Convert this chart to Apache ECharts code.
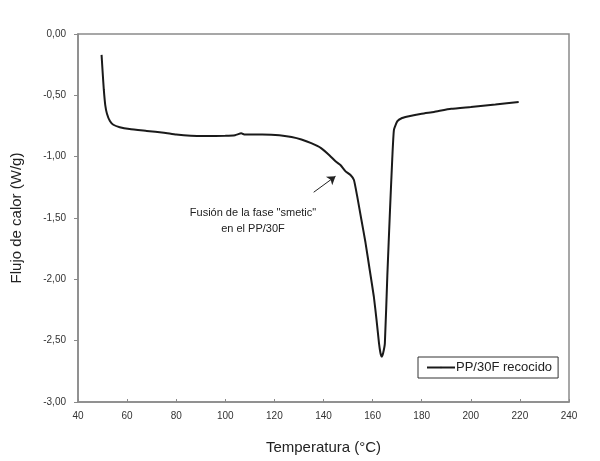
<!DOCTYPE html>
<html>
<head>
<meta charset="utf-8">
<script src="https://cdn.jsdelivr.net/npm/echarts@6/dist/echarts.min.js"></script>
<style>
  html, body { margin: 0; padding: 0; background: #fff; }
  #chart { width: 600px; height: 461px; }
</style>
</head>
<body>
<div id="chart"></div>
<script>
// temperatura (°C) y flujo de calor (W/g)
const temperatura = [
  49.6, 50.0, 50.5, 51.1, 51.8, 53, 54.4, 57, 61, 68, 75, 80, 86, 92, 100,
  104, 106.5, 108, 115, 122, 127, 131, 135, 139, 142.5, 145, 147, 149, 151,
  152.4, 153.7, 155.4, 157.1, 158.8, 160.5, 161.6, 162.6, 163.2, 163.7, 164.3, 165,
  166, 167.1, 168, 168.7, 170.1, 172, 174.8, 180, 185, 192, 200, 210, 219.5
]
const flujo = [
  -0.17, -0.30, -0.45, -0.58, -0.65, -0.71, -0.74, -0.76, -0.775, -0.79, -0.805, -0.82, -0.83, -0.832, -0.83,
  -0.825, -0.81, -0.82, -0.82, -0.825, -0.84, -0.86, -0.89, -0.93, -0.99, -1.04, -1.07, -1.12, -1.15,
  -1.19, -1.32, -1.51, -1.70, -1.92, -2.14, -2.33, -2.52, -2.60, -2.63, -2.60, -2.52,
  -1.97, -1.43, -1.02, -0.78, -0.71, -0.685, -0.67, -0.65, -0.635, -0.61, -0.595, -0.575, -0.555
]
const serieNombre = 'PP/30F recocido'
const notaTexto = ['Fusión de la fase "smetic"', 'en el PP/30F']
// flecha de la nota: [cola, punta] en coordenadas de datos
const notaFlecha = [[136, -1.29], [144.9, -1.16]]

const chart = echarts.init(document.getElementById('chart'))

const fontFam = '"Liberation Sans", Arial, sans-serif'

const option = {
  backgroundColor: '#fff',
  animation: false,
  grid: {
    left: 78,
    right: 31,
    top: 34,
    bottom: 59,
    show: true,
    borderColor: '#8a8a8a',
    borderWidth: 1.5
  },
  legend: {
    data: [serieNombre],
    left: 418,
    top: 357,
    itemWidth: 28,
    itemHeight: 2,
    itemGap: 0,
    padding: [4, 6, 4, 8],
    borderColor: '#333',
    borderWidth: 1,
    textStyle: { fontFamily: fontFam, fontSize: 13, color: '#222', padding: [0, 0, 0, -4] }
  },
  xAxis: {
    type: 'value',
    min: 40,
    max: 240,
    interval: 20,
    name: 'Temperatura (°C)',
    nameLocation: 'middle',
    nameGap: 38,
    nameTextStyle: { fontFamily: fontFam, fontSize: 15, color: '#222' },
    axisLine: { onZero: false, lineStyle: { color: '#8a8a8a', width: 1.5 } },
    axisTick: { inside: true, length: 3, lineStyle: { color: '#8a8a8a' } },
    axisLabel: { fontFamily: fontFam, fontSize: 10, color: '#333', margin: 9 },
    splitLine: { show: false }
  },
  yAxis: {
    type: 'value',
    min: -3,
    max: 0,
    interval: 0.5,
    name: 'Flujo de calor (W/g)',
    nameLocation: 'middle',
    nameGap: 54,
    nameTextStyle: { fontFamily: fontFam, fontSize: 15, color: '#222' },
    axisLine: { onZero: false, lineStyle: { color: '#8a8a8a', width: 1.5 } },
    axisTick: { length: 4, lineStyle: { color: '#8a8a8a' } },
    axisLabel: {
      fontFamily: fontFam, fontSize: 10, color: '#333', margin: 12,
      formatter: v => v.toFixed(2).replace('.', ',')
    },
    splitLine: { show: false }
  },
  series: [
    {
      name: serieNombre,
      type: 'line',
      data: temperatura.map((t, i) => [t, flujo[i]]),
      symbol: 'none',
      smooth: 0.15,
      lineStyle: { color: '#1a1a1a', width: 2 },
      itemStyle: { color: '#1a1a1a' },
      markLine: {
        silent: true,
        symbol: ['none', 'arrow'],
        symbolSize: 8,
        label: { show: false },
        lineStyle: { color: '#222', width: 1, type: 'solid' },
        data: [[{ coord: notaFlecha[0] }, { coord: notaFlecha[1] }]]
      }
    }
  ],
  graphic: [
    {
      type: 'text',
      x: 253,
      y: 205,
      style: {
        text: notaTexto.join('\n'),
        fontFamily: fontFam,
        fontSize: 11,
        lineHeight: 16,
        fill: '#222',
        align: 'center'
      }
    }
  ]
}

chart.setOption(option)
</script>
</body>
</html>
